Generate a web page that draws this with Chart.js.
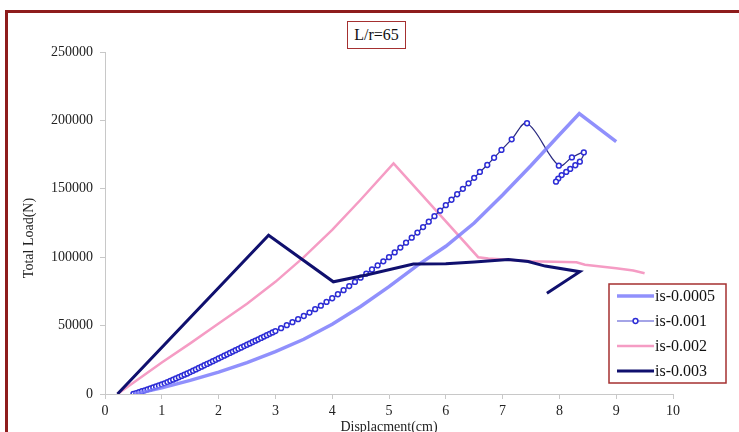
<!DOCTYPE html>
<html>
<head>
<meta charset="utf-8">
<script src="https://cdn.jsdelivr.net/npm/chart.js@4.4.1/dist/chart.umd.min.js"></script>
<style>
  html, body { margin: 0; padding: 0; background: #fff; overflow: hidden; }
  #wrap { position: relative; width: 739px; height: 432px; overflow: hidden; background: #fff; }
  #frame { position: absolute; left: 5px; top: 10px; width: 780px; height: 480px; border: 3px solid #8e1c1c; box-sizing: border-box; }
  #title { position: absolute; left: 347px; top: 21px; width: 59px; height: 28px; box-sizing: border-box;
           border: 1.5px solid #a53030; font: 16px "Liberation Serif", serif; color: #111;
           text-align: center; line-height: 25px; background: #fff; }
  canvas { position: absolute; left: 0; top: 0; }
</style>
</head>
<body>
<div id="wrap">
  <div id="frame"></div>
  <canvas id="chart" width="739" height="450"></canvas>
  <div id="title">L/r=65</div>
</div>
<script>
// is-0.0005
const disp0005 = [0.5, 0.75, 1, 1.5, 2, 2.5, 3, 3.5, 4, 4.5, 5, 5.5, 6, 6.5, 7, 7.5, 8, 8.35, 9.0];
const load0005 = [0, 2100, 4500, 10000, 16000, 23000, 31000, 40000, 51000, 64000, 78500, 94000, 108000, 125000, 145500, 167000, 189500, 205000, 184500];

// is-0.001
const disp001 = [0.5, 0.55, 0.6, 0.65, 0.7, 0.75, 0.8, 0.85, 0.9, 0.95, 1.0, 1.05, 1.1, 1.15, 1.2, 1.25, 1.3, 1.35, 1.4, 1.45,
  1.5, 1.55, 1.6, 1.65, 1.7, 1.75, 1.8, 1.85, 1.9, 1.95, 2.0, 2.05, 2.1, 2.15, 2.2, 2.25, 2.3, 2.35, 2.4, 2.45,
  2.5, 2.55, 2.6, 2.65, 2.7, 2.75, 2.8, 2.85, 2.9, 2.95, 3.0, 3.1, 3.2, 3.3, 3.4, 3.5, 3.6, 3.7, 3.8, 3.9,
  4.0, 4.1, 4.2, 4.3, 4.4, 4.5, 4.6, 4.7, 4.8, 4.9, 5.0, 5.1, 5.2, 5.3, 5.4, 5.5, 5.6, 5.7, 5.8, 5.9,
  6.0, 6.1, 6.2, 6.3, 6.4, 6.5, 6.6, 6.73, 6.85, 6.98, 7.16, 7.43, 7.99, 8.22, 8.43, 8.36, 8.28, 8.19, 8.12, 8.04, 7.98, 7.94];
const load001 = [0, 600, 1300, 2000, 2700, 3400, 4100, 4800, 5500, 6200, 7000, 7800, 8700, 9600, 10500, 11400, 12300, 13200, 14100, 15000,
  16000, 17000, 18000, 19000, 20000, 21000, 22000, 23000, 24000, 25000, 26000, 27000, 28000, 29000, 30000, 31000, 32000, 33000, 34000, 35000,
  36000, 37000, 38000, 39000, 40000, 41000, 42000, 43000, 44000, 45000, 46000, 48100, 50300, 52500, 54700, 57000, 59500, 62000, 64600, 67300,
  70000, 72900, 75900, 78900, 81900, 85000, 88000, 91000, 94000, 97000, 100000, 103500, 107000, 110600, 114300, 118000, 122000, 126000, 130000, 134000,
  138000, 142000, 146000, 150000, 154000, 158000, 162300, 167400, 172700, 178400, 186200, 197900, 166900, 172900, 176600, 169800, 167200, 164500, 162300, 160000, 157500, 155200];

// is-0.002
const disp002 = [0.22, 1.0, 1.5, 2.0, 2.5, 3.0, 3.5, 4.0, 4.5, 5.08, 6.57, 6.75, 7.5, 8.3, 8.45, 9.0, 9.3, 9.5];
const load002 = [0, 23000, 37000, 51500, 66000, 82000, 100000, 120000, 142000, 168600, 100000, 99000, 97000, 96300, 94500, 92000, 90300, 88300];

// is-0.003
const disp003 = [0.22, 2.88, 4.02, 4.6, 5.43, 6.0, 6.5, 7.1, 7.45, 7.75, 8.36, 7.78];
const load003 = [0, 116000, 82000, 87000, 95000, 95300, 96500, 98400, 96800, 93500, 89400, 73600];

const seriesLabels = ["is-0.0005", "is-0.001", "is-0.002", "is-0.003"];

const xTicks = [0, 1, 2, 3, 4, 5, 6, 7, 8, 9, 10];
const yTicks = [0, 50000, 100000, 150000, 200000, 250000];

function pts(xs, ys) {
    return xs.map((x, i) => ({ x: x, y: ys[i] }));
}

const serif = "'Liberation Serif', 'Times New Roman', serif";

// legend in a framed box + rotated y title
const boxLegend = {
    id: "boxLegend",
    afterDraw(chart) {
        const ctx = chart.ctx;
        ctx.save();

        ctx.fillStyle = "#222";
        ctx.font = "14px " + serif;
        ctx.textAlign = "center";
        ctx.textBaseline = "middle";
        ctx.translate(29, 238);
        ctx.rotate(-Math.PI / 2);
        ctx.fillText("Total Load(N)", 0, 0);
        ctx.setTransform(1, 0, 0, 1, 0, 0);

        ctx.fillStyle = "#fff";
        ctx.fillRect(609, 284, 117, 99);
        ctx.strokeStyle = "#a53030";
        ctx.lineWidth = 1.5;
        ctx.strokeRect(609, 284, 117, 99);

        chart.data.datasets.forEach((ds, i) => {
            const y = 296 + i * 25;
            ctx.strokeStyle = ds.legendColor || ds.borderColor;
            ctx.lineWidth = ds.borderWidth;
            ctx.beginPath();
            ctx.moveTo(617, y);
            ctx.lineTo(654, y);
            ctx.stroke();
            if (ds.pointRadius > 0) {
                ctx.beginPath();
                ctx.arc(635.5, y, ds.pointRadius, 0, Math.PI * 2);
                ctx.fillStyle = ds.pointBackgroundColor;
                ctx.fill();
                ctx.strokeStyle = ds.pointBorderColor;
                ctx.lineWidth = ds.pointBorderWidth;
                ctx.stroke();
            }
            ctx.fillStyle = "#111";
            ctx.font = "16px " + serif;
            ctx.textAlign = "left";
            ctx.textBaseline = "middle";
            ctx.fillText(ds.label, 655, y + 1);
        });
        ctx.restore();
    }
};

const ctx = document.getElementById("chart").getContext("2d");
new Chart(ctx, {
    type: "line",
    data: {
        datasets: [{
            label: seriesLabels[0],
            data: pts(disp0005, load0005),
            borderColor: "rgba(125, 125, 252, 0.85)",
            borderWidth: 3.5,
            pointRadius: 0,
            tension: 0,
            order: 1
        }, {
            label: seriesLabels[1],
            data: pts(disp001, load001),
            borderColor: "#2a2a80",
            legendColor: "#4a4ad0",
            borderWidth: 1.2,
            pointRadius: 2.4,
            pointBorderWidth: 1.5,
            pointBorderColor: "#2d2dd6",
            pointBackgroundColor: "#fff",
            tension: 0.35,
            order: 2
        }, {
            label: seriesLabels[2],
            data: pts(disp002, load002),
            borderColor: "#f59cc4",
            borderWidth: 2.5,
            pointRadius: 0,
            tension: 0,
            order: 3
        }, {
            label: seriesLabels[3],
            data: pts(disp003, load003),
            borderColor: "#10106e",
            borderWidth: 3,
            pointRadius: 0,
            tension: 0,
            order: 0
        }]
    },
    options: {
        responsive: false,
        animation: false,
        layout: { padding: { left: 0, right: 66, top: 52, bottom: 0 } },
        plugins: {
            legend: { display: false },
            tooltip: { enabled: false }
        },
        scales: {
            x: {
                type: "linear",
                min: 0,
                max: 10,
                afterBuildTicks: s => { s.ticks = xTicks.map(v => ({ value: v })); },
                afterFit: s => { s.height = 56; },
                ticks: { color: "#222", font: { family: serif, size: 14 }, padding: 4 },
                grid: { drawOnChartArea: false, tickLength: 5, color: "#c8c8c8" },
                border: { color: "#c8c8c8" },
                title: {
                    display: true,
                    text: "Displacment(cm)",
                    color: "#222",
                    font: { family: serif, size: 14 },
                    padding: { top: 0, bottom: 14 }
                }
            },
            y: {
                min: 0,
                max: 250000,
                afterBuildTicks: s => { s.ticks = yTicks.map(v => ({ value: v })); },
                afterFit: s => { s.width = 105; },
                ticks: { color: "#222", font: { family: serif, size: 14 }, padding: 7, callback: v => String(v) },
                grid: { drawOnChartArea: false, tickLength: 5, color: "#c8c8c8" },
                border: { color: "#c8c8c8" }
            }
        }
    },
    plugins: [boxLegend]
});
</script>
</body>
</html>
